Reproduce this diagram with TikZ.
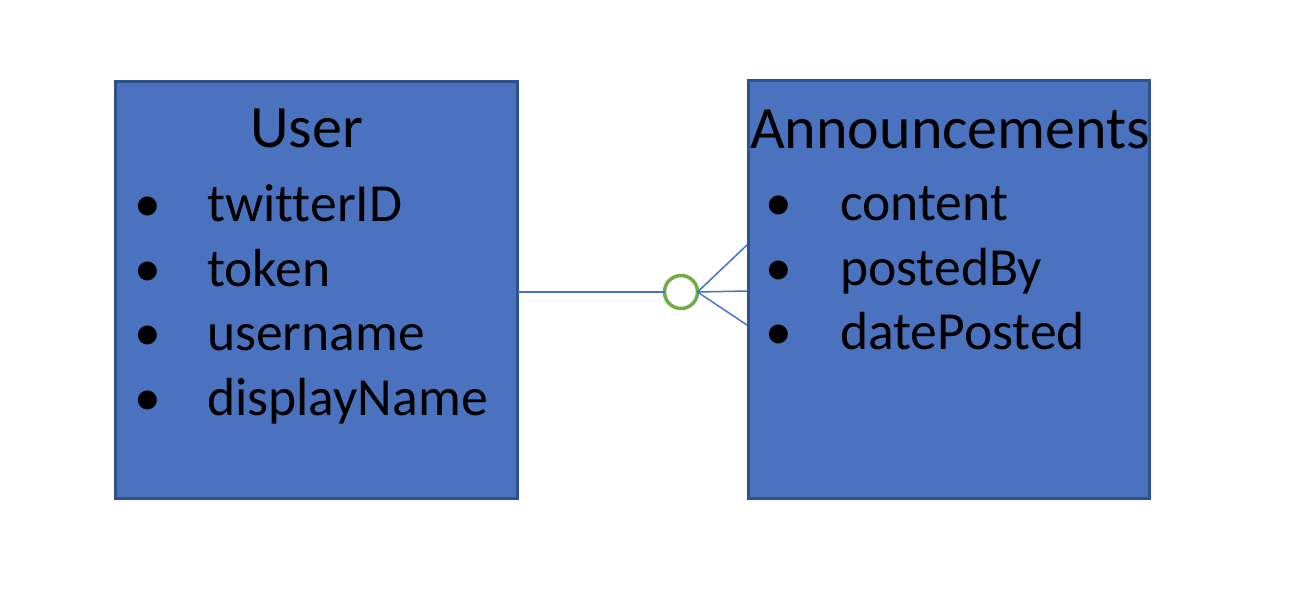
\documentclass[tikz,border=0pt]{standalone}
\usepackage{fontspec}
\setmainfont{Carlito}[Ligatures={NoCommon}]
\definecolor{boxfill}{HTML}{4A72BE}
\definecolor{boxedge}{HTML}{2F528F}
\definecolor{zgreen}{HTML}{70AD47}
\definecolor{lineblue}{HTML}{4472C4}
\tikzset{
  entity/.style={draw=boxedge, fill=boxfill, line width=3pt, rectangle, inner sep=0pt, outer sep=0pt},
  titletext/.style={anchor=base west, inner sep=0pt, font=\fontsize{60}{62}\selectfont, text=black},
  itemtext/.style={anchor=base west, inner sep=0pt, font=\fontsize{53.6}{55}\selectfont, text=black},
  bullettext/.style={anchor=base, inner sep=0pt, font=\fontsize{53.6}{55}\selectfont, text=black},
  relline/.style={draw=lineblue, line width=1.5pt},
  zerocirc/.style={circle, draw=zgreen, fill=white, line width=3.5pt, minimum size=33pt, inner sep=0pt, outer sep=0pt}
}
\begin{document}
\begin{tikzpicture}[x=1pt,y=-1pt]
\useasboundingbox (0,0) rectangle (1314,600);
% entities
\node[entity, minimum width=402pt, minimum height=417pt] (user) at (316.5,290) {};
\node[entity, minimum width=401pt, minimum height=418pt] (ann) at (949,289.5) {};
% User texts
\node[titletext] (utitle) at (250,147) {User};
\node[bullettext] (ub1) at (148,221) {•};
\node[itemtext] (ui1) at (207,221) {twitterID};
\node[bullettext] (ub2) at (148,286) {•};
\node[itemtext] (ui2) at (207,286) {token};
\node[bullettext] (ub3) at (148,350) {•};
\node[itemtext] (ui3) at (207,350) {username};
\node[bullettext] (ub4) at (148,415) {•};
\node[itemtext] (ui4) at (207,415) {displayName};
% Announcements texts
\node[titletext] (atitle) at (750,148) {Announcements};
\node[bullettext] (ab1) at (779,220) {•};
\node[itemtext] (ai1) at (840,220) {content};
\node[bullettext] (ab2) at (779,285) {•};
\node[itemtext] (ai2) at (840,285) {postedBy};
\node[bullettext] (ab3) at (779,349) {•};
\node[itemtext] (ai3) at (840,349) {datePosted};
% connector
\coordinate (f1) at (747,245);
\coordinate (f2) at (747,291);
\coordinate (f3) at (747,325);
\node[zerocirc] (zo) at (681,292) {};
\draw[relline] (user.east |- zo) -- (zo.west);
\draw[relline] (zo.east) -- (f1);
\draw[relline] (zo.east) -- (f2);
\draw[relline] (zo.east) -- (f3);
\end{tikzpicture}
\end{document}
